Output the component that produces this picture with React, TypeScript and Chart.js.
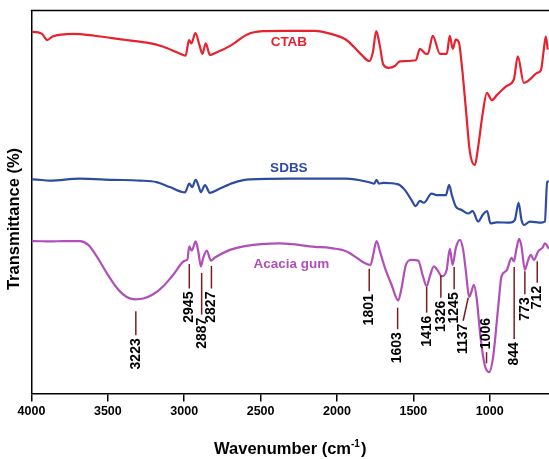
import React, { useEffect, useRef } from "react";
import { Chart, registerables } from "chart.js";
Chart.register(...registerables);

// ---- Data ----
const ctabWavenumber = [4000,3993,3931,3897,3863,3725,3588,3382,3244,3141,3037,2991,2969,2953,2927,2900,2881,2859,2832,2797,2694,2591,2487,2350,2145,2040,1938,1834,1789,1765,1743,1720,1697,1662,1621,1589,1484,1457,1418,1405,1373,1326,1281,1262,1242,1222,1202,1182,1156,1130,1097,1078,1045,1019,986,953,888,842,816,777,737,691,665,646,633,620];
const ctabTransmittance = [94.4,94.4,93.9,92.3,93.2,93.9,93.4,92.3,91.6,90.6,88.9,88.2,92.3,91.4,94.1,90.9,88.7,91.4,88.4,88.9,90.9,93.7,94.6,94.7,94.7,93.9,92.3,88.2,86.8,89.1,94.6,90.9,85.9,85.0,85.5,86.7,87.0,90.0,88.7,88.7,93.4,88.7,88.7,93.4,90.0,92.4,91.7,85.4,74.2,63.1,59.6,63.8,73.4,78.5,76.6,77.9,80.3,82.0,88.0,81.1,82.0,83.7,84.4,89.8,93.2,89.8];

const sdbsWavenumber = [4000,3988,3879,3683,3467,3290,3181,3094,2995,2967,2948,2925,2908,2891,2864,2832,2767,2679,2570,2308,1937,1784,1756,1741,1726,1697,1599,1555,1512,1485,1457,1431,1381,1348,1287,1266,1248,1222,1184,1141,1112,1076,1043,1017,995,955,868,836,811,792,775,737,661,639,624,613];
const sdbsTransmittance = [55.9,55.9,55.6,56.1,55.8,55.6,55.2,53.9,52.5,54.8,53.9,55.8,54.4,52.6,54.4,52.4,53.5,55.0,55.9,56.1,56.1,55.1,54.8,55.8,54.8,55.0,54.6,53.1,50.5,48.9,50.3,49.8,52.2,51.8,51.8,54.5,51.8,48.8,47.9,47.0,47.6,44.9,46.8,47.6,44.4,44.7,44.6,45.3,49.8,45.3,44.0,44.9,44.6,44.9,55.2,55.4];

const acaciaWavenumber = [4000,3992,3879,3792,3683,3628,3573,3508,3442,3377,3323,3268,3203,3137,3072,2995,2980,2967,2951,2925,2908,2891,2876,2853,2825,2799,2701,2603,2374,2145,2046,1937,1806,1780,1763,1741,1719,1686,1643,1599,1577,1549,1512,1468,1440,1413,1392,1366,1337,1315,1283,1261,1243,1222,1195,1174,1156,1135,1119,1104,1086,1060,1032,1004,978,945,923,890,857,842,824,807,792,770,748,731,711,683,654,639,613];
const acaciaTransmittance = [39.8,39.8,39.7,39.8,39.8,38.8,35.8,31.5,27.6,25.2,24.6,24.8,25.9,28.0,31.0,34.7,34.9,38.4,37.3,39.7,37.1,33.2,35.4,37.3,34.7,35.5,37.5,38.5,39.2,38.3,38.0,37.1,33.8,33.6,36.2,39.8,37.1,32.8,28.4,24.3,27.6,33.6,34.9,34.7,31.0,28.0,30.6,33.2,31.9,30.6,32.1,37.8,33.6,38.0,40.1,37.5,31.9,25.2,26.7,28.4,25.0,14.6,7.3,5.6,9.5,22.4,30.6,32.1,35.4,34.5,38.0,40.4,38.4,32.3,34.9,36.2,34.9,37.1,38.1,39.2,37.8];

const xTickValues = [4000, 3500, 3000, 2500, 2000, 1500, 1000];

const seriesNames = ["CTAB", "SDBS", "Acacia gum"];
const seriesLabelWavenumber = [2315, 2315, 2298];
const seriesLabelTransmittance = [91.7, 58.7, 33.7];

// peak annotations (Acacia gum)
const peakLabels = ["3223","2945","2887","2827","1801","1603","1416","1326","1245","1137","1006","844","773","712"];
const peakLineTopWavenumber = [3317,2967,2886,2822,1789,1603,1413,1320,1233,1141,1021,840,770,689];
const peakLineBottomWavenumber = [3317,2967,2886,2822,1789,1603,1413,1320,1233,1174,1021,840,770,689];
const peakLineTopT = [21.5,33.8,31.5,33.3,32.6,22.4,27.8,30.9,33.0,25.0,10.8,33.0,31.9,34.5];
const peakLineBottomT = [15.2,27.4,20.6,27.4,26.7,16.8,21.1,25.0,27.2,19.0,7.9,14.2,25.9,28.9];
const peakTextAbove = [false,false,false,false,false,false,false,false,false,false,true,false,false,false];

const COLORS = ["#E8212E", "#2E4BA2", "#B14FB8"];
const FONT = "'Liberation Sans', Arial, sans-serif";

const overlayPlugin = {
  id: "overlay",
  afterDatasetsDraw(chart: any) {
    const { ctx, chartArea, scales } = chart;
    const xs = scales.x;
    const ys = scales.y;
    ctx.save();
    // top border
    ctx.strokeStyle = "#000";
    ctx.lineWidth = 1.5;
    ctx.beginPath();
    ctx.moveTo(chartArea.left - 0.75, chartArea.top);
    ctx.lineTo(chartArea.right, chartArea.top);
    ctx.stroke();

    // series labels
    ctx.font = `bold 13.5px ${FONT}`;
    ctx.textAlign = "center";
    ctx.textBaseline = "middle";
    seriesNames.forEach((n, i) => {
      ctx.fillStyle = COLORS[i];
      ctx.fillText(n, xs.getPixelForValue(seriesLabelWavenumber[i]), ys.getPixelForValue(seriesLabelTransmittance[i]));
    });

    // peak annotations
    const gap = 3;
    peakLabels.forEach((lab, i) => {
      const x1 = xs.getPixelForValue(peakLineTopWavenumber[i]);
      const x2 = xs.getPixelForValue(peakLineBottomWavenumber[i]);
      const y1 = ys.getPixelForValue(peakLineTopT[i]);
      const y2 = ys.getPixelForValue(peakLineBottomT[i]);
      ctx.strokeStyle = "#7A1F1F";
      ctx.lineWidth = 1.5;
      ctx.beginPath();
      ctx.moveTo(x1, y1);
      ctx.lineTo(x2, y2);
      ctx.stroke();
      ctx.save();
      ctx.fillStyle = "#000";
      ctx.font = `bold 14px ${FONT}`;
      ctx.textBaseline = "middle";
      if (peakTextAbove[i]) {
        ctx.translate(x1, y1 - gap);
        ctx.rotate(-Math.PI / 2);
        ctx.textAlign = "left";
      } else {
        ctx.translate(x2, y2 + gap);
        ctx.rotate(-Math.PI / 2);
        ctx.textAlign = "right";
      }
      ctx.fillText(lab, 0, 0);
      ctx.restore();
    });

    // y title
    ctx.save();
    ctx.fillStyle = "#000";
    ctx.font = `bold 16.5px ${FONT}`;
    ctx.textAlign = "center";
    ctx.textBaseline = "middle";
    ctx.translate(14, (chartArea.top + chartArea.bottom) / 2 + 17);
    ctx.rotate(-Math.PI / 2);
    ctx.fillText("Transmittance (%)", 0, 0);
    ctx.restore();

    // x title with superscript
    ctx.save();
    ctx.fillStyle = "#000";
    ctx.textBaseline = "alphabetic";
    ctx.textAlign = "left";
    const mainFont = `bold 16.5px ${FONT}`;
    const supFont = `bold 10px ${FONT}`;
    const p1 = "Wavenumber (cm";
    const p2 = "-1";
    const p3 = ")";
    ctx.font = mainFont;
    const w1 = ctx.measureText(p1).width;
    const w3 = ctx.measureText(p3).width;
    ctx.font = supFont;
    const w2 = ctx.measureText(p2).width;
    const total = w1 + w2 + w3 + 1;
    const cx = (chartArea.left + chartArea.right) / 2;
    let x = cx - total / 2;
    const base = 454;
    ctx.font = mainFont;
    ctx.fillText(p1, x, base);
    x += w1;
    ctx.font = supFont;
    ctx.fillText(p2, x, base - 7);
    x += w2 + 1;
    ctx.font = mainFont;
    ctx.fillText(p3, x, base);
    ctx.restore();

    ctx.restore();
  },
};

export default function App() {
  const ref = useRef<HTMLCanvasElement | null>(null);
  useEffect(() => {
    if (!ref.current) return;
    const mk = (wn: number[], t: number[]) => wn.map((w, i) => ({ x: w, y: t[i] }));
    const chart = new Chart(ref.current, {
      type: "line",
      data: {
        datasets: [
          { label: seriesNames[0], data: mk(ctabWavenumber, ctabTransmittance), borderColor: COLORS[0], borderWidth: 2.2, pointRadius: 0, cubicInterpolationMode: "monotone", fill: false },
          { label: seriesNames[1], data: mk(sdbsWavenumber, sdbsTransmittance), borderColor: COLORS[1], borderWidth: 2.2, pointRadius: 0, cubicInterpolationMode: "monotone", fill: false },
          { label: seriesNames[2], data: mk(acaciaWavenumber, acaciaTransmittance), borderColor: COLORS[2], borderWidth: 2.2, pointRadius: 0, cubicInterpolationMode: "monotone", fill: false },
        ],
      },
      options: {
        animation: false,
        responsive: true,
        maintainAspectRatio: false,
        layout: { padding: { left: 31.5, top: 10.5, right: 0, bottom: 36.5 } },
        plugins: { legend: { display: false }, tooltip: { enabled: false } },
        scales: {
          x: {
            type: "linear",
            reverse: true,
            min: 612,
            max: 4000,
            afterBuildTicks: (scale: any) => {
              scale.ticks = xTickValues.map((v) => ({ value: v }));
            },
            grid: { display: true, drawOnChartArea: false, drawTicks: true, tickLength: 8, color: "#000", lineWidth: 1.5 },
            border: { display: true, color: "#000", width: 1.5 },
            ticks: {
              color: "#000",
              font: { family: FONT, size: 12.5, weight: "bold" },
              padding: 3,
              maxRotation: 0,
              autoSkip: false,
              callback: (v: any) => String(v),
            },
          },
          y: {
            type: "linear",
            min: 0,
            max: 100,
            grid: { display: false, drawTicks: false },
            border: { display: true, color: "#000", width: 1.5 },
            ticks: { display: false },
          },
        },
      },
      plugins: [overlayPlugin],
    } as any);
    return () => chart.destroy();
  }, []);
  return (
    <div style={{ position: "fixed", left: 0, top: 0, width: 549, height: 459, background: "#fff" }}>
      <canvas ref={ref} />
    </div>
  );
}
